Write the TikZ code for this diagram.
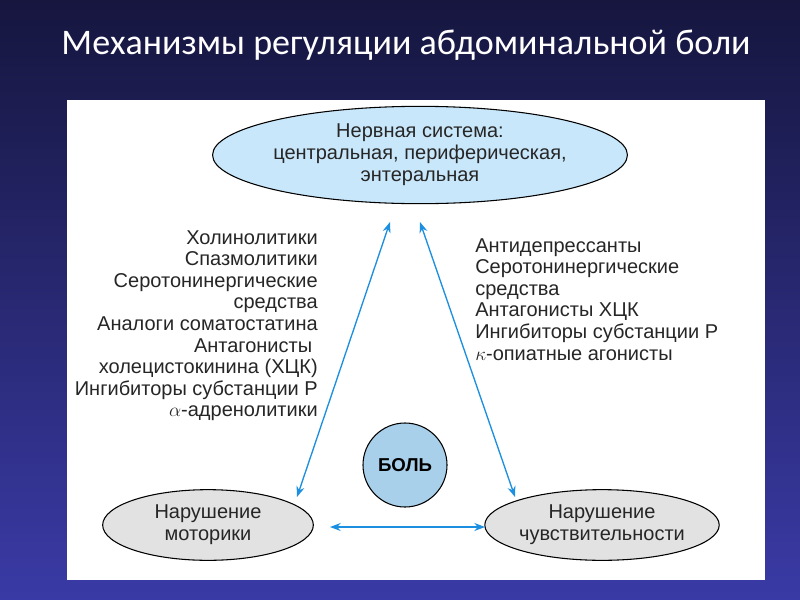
\documentclass[tikz,border=0pt]{standalone}
\usepackage{fontspec}
\setmainfont{Liberation Sans}
\newfontfamily\titlefont{Carlito}
\usetikzlibrary{arrows.meta,positioning,shapes.geometric}
\definecolor{arrowblue}{HTML}{1C8FE0}
\definecolor{topfill}{HTML}{C9E7FA}
\definecolor{lowfill}{HTML}{E2E2E2}
\definecolor{painfill}{HTML}{A9D0EA}
\definecolor{bgtop}{HTML}{16163F}
\definecolor{bgbot}{HTML}{3A3AA6}
\tikzset{
  oval/.style={draw=black,line width=0.8pt,ellipse,align=center,inner sep=0pt,font=\fontsize{15}{16.5}\selectfont,text=black!85},
  druglist/.style={align=right,font=\fontsize{15}{16.2}\selectfont,text=black!85,inner sep=0pt},
  link/.style={<->,>={Stealth[length=8pt,width=6pt]},draw=arrowblue,line width=1pt}
}
\begin{document}
\begin{tikzpicture}[x=0.75pt,y=-0.75pt]
  \shade[top color=bgtop,bottom color=bgbot] (0,0) rectangle (800,600);
  \useasboundingbox (0,0) rectangle (800,600);
  \fill[white] (67,100) rectangle (765,580);
  \node[text=white,font=\titlefont\fontsize{27}{30}\selectfont] (title) at (406,45) {Механизмы регуляции абдоминальной боли};

  \node[oval,fill=topfill,minimum width=277pt,minimum height=73pt] (nerv) at (420,155)
    {Нервная система:\\центральная, периферическая,\\энтеральная};
  \node[oval,fill=lowfill,minimum width=158pt,minimum height=53pt] (motor) at (208,525)
    {Нарушение\\моторики};
  \node[oval,fill=lowfill,minimum width=166pt,minimum height=53pt] (sens) at (602,525)
    {Нарушение\\чувствительности};
  \node[circle,draw=black,line width=0.8pt,fill=painfill,minimum size=63pt,
        font=\bfseries\fontsize{14}{16}\selectfont] (pain) at (405,465) {БОЛЬ};

  \node[druglist,anchor=north east] (left) at (318,230)
    {Холинолитики\\Спазмолитики\\Серотонинергические\\средства\\Аналоги соматостатина\\Антагонисты\hphantom{ }\\холецистокинина (ХЦК)\\Ингибиторы субстанции Р\\$\alpha$-адренолитики};
  \node[druglist,align=left,anchor=north west] (right) at (475,238)
    {Антидепрессанты\\Серотонинергические\\средства\\Антагонисты ХЦК\\Ингибиторы субстанции Р\\$\kappa$-опиатные агонисты};

  \coordinate (nl) at (390,222);
  \coordinate (nr) at (420,222);
  \coordinate (ml) at (297,497);
  \coordinate (sr) at (515,497);
  \coordinate (mh) at (330,527);
  \coordinate (sh) at (485,527);
  \draw[link] (nl) -- (ml);
  \draw[link] (nr) -- (sr);
  \draw[link] (mh) -- (sh);
\end{tikzpicture}
\end{document}
